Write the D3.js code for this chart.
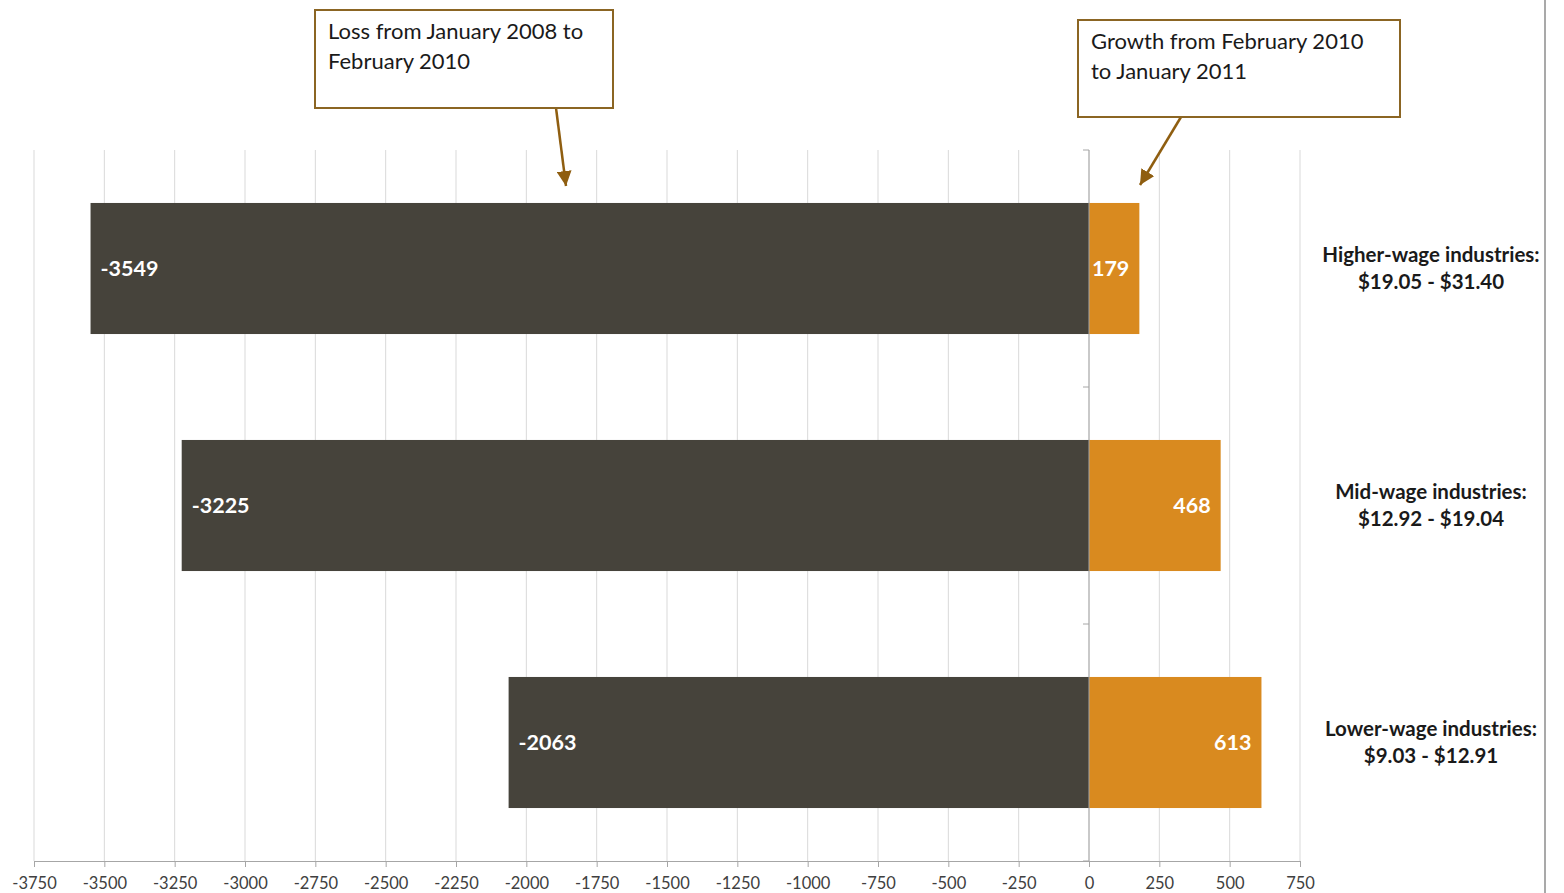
<!DOCTYPE html>
<html><head><meta charset="utf-8">
<script src="https://cdn.jsdelivr.net/npm/d3@7"></script>
<style>
html,body{margin:0;padding:0;background:#fff;}
svg{display:block;}
text{font-family:Lato,"Open Sans",sans-serif;}
</style></head>
<body>
<svg id="chart" width="1564" height="893"></svg>
<script>
const categories = ["Higher-wage industries:", "Mid-wage industries:", "Lower-wage industries:"];
const ranges = ["$19.05 - $31.40", "$12.92 - $19.04", "$9.03 - $12.91"];
const lossValues = [-3549, -3225, -2063];
const growthValues = [179, 468, 613];
const xTicks = [-3750,-3500,-3250,-3000,-2750,-2500,-2250,-2000,-1750,-1500,-1250,-1000,-750,-500,-250,0,250,500,750];
const annotations = ["Loss from January 2008 to|February 2010", "Growth from February 2010|to January 2011"];

const svg = d3.select("#chart");
const x = d3.scaleLinear().domain([-3750, 750]).range([34, 1300]);
const y = d3.scaleBand().domain(categories).range([150, 861]).paddingInner(0.447).paddingOuter(0.2235);
const yb = d3.scaleBand().domain(categories).range([150, 861]);

// gridlines
svg.append("g").selectAll("line").data(xTicks).join("line")
  .attr("x1", d => x(d)).attr("x2", d => x(d)).attr("y1", 150).attr("y2", 861)
  .attr("stroke", "#d9d9d9").attr("stroke-width", 1);

// x axis
const xAxis = svg.append("g").attr("transform", "translate(0,861)")
  .call(d3.axisBottom(x).tickValues(xTicks).tickSize(6).tickPadding(10).tickFormat(d3.format("d")));
xAxis.select(".domain").attr("stroke", "#a6a6a6");
xAxis.selectAll(".tick line").attr("stroke", "#a6a6a6");
xAxis.selectAll("text").attr("font-size", 16.5).attr("fill", "#404040")
  .attr("font-family", "'Liberation Sans Narrow','DejaVu Sans Condensed',Lato,sans-serif")
  .text(d => d3.format("d")(d).replace("−","-"));

// bars
const data = categories.map((c,i) => ({c, loss: lossValues[i], gain: growthValues[i]}));
svg.append("g").selectAll("rect").data(data).join("rect")
  .attr("x", d => x(d.loss)).attr("width", d => x(0) - x(d.loss))
  .attr("y", d => y(d.c)).attr("height", y.bandwidth()).attr("fill", "#46433b");
svg.append("g").selectAll("rect").data(data).join("rect")
  .attr("x", x(0)).attr("width", d => x(d.gain) - x(0))
  .attr("y", d => y(d.c)).attr("height", y.bandwidth()).attr("fill", "#d98a1f");

// zero axis with category ticks
const yAxis = svg.append("g").attr("transform", `translate(${x(0)},0)`);
yAxis.append("line").attr("x1",0).attr("x2",0).attr("y1",150).attr("y2",861).attr("stroke","#a6a6a6");
const bounds = [150].concat(categories.map(c => yb(c) + yb.bandwidth()));
yAxis.selectAll("line.t").data(bounds).join("line").attr("class","t")
  .attr("x1",-6).attr("x2",0).attr("y1",d=>d).attr("y2",d=>d).attr("stroke","#a6a6a6");

// value labels
svg.append("g").selectAll("text").data(data).join("text")
  .attr("x", d => x(d.loss) + 10).attr("y", d => y(d.c) + y.bandwidth()/2)
  .attr("dy","0.35em").attr("fill","#fff").attr("font-weight","bold").attr("font-size",21.5)
  .text(d => d.loss);
svg.append("g").selectAll("text").data(data).join("text")
  .attr("x", d => x(d.gain) - 10).attr("y", d => y(d.c) + y.bandwidth()/2)
  .attr("dy","0.35em").attr("text-anchor","end").attr("fill","#fff").attr("font-weight","bold").attr("font-size",21.5)
  .text(d => d.gain);

// category labels
const cl = svg.append("g").selectAll("text").data(data).join("text")
  .attr("x", 1431).attr("y", d => yb(d.c) + yb.bandwidth()/2)
  .attr("text-anchor","middle").attr("font-weight","bold").attr("font-size",20.5).attr("fill","#1a1a1a");
cl.append("tspan").attr("x",1431).attr("dy","-0.3em").text(d => d.c);
cl.append("tspan").attr("x",1431).attr("dy","1.3em").text((d,i) => ranges[i]);

// right border line
svg.append("line").attr("x1",1545).attr("x2",1545).attr("y1",0).attr("y2",893).attr("stroke","#8c8c8c").attr("stroke-width",1.5);

// annotations
const brown = "#8b6523";
svg.append("defs").append("marker").attr("id","arr").attr("viewBox","0 0 10 10")
  .attr("refX",10).attr("refY",5).attr("markerWidth",6).attr("markerHeight",6)
  .attr("markerUnits","strokeWidth").attr("orient","auto")
  .append("path").attr("d","M0,0 L10,5 L0,10 z").attr("fill","#8f5e10");
const boxes = [
  {x:315, y:10, w:298, h:98, text: annotations[0], ax1:556, ay1:108, ax2:566, ay2:186},
  {x:1078, y:20, w:322, h:97, text: annotations[1], ax1:1181, ay1:117, ax2:1140, ay2:185}
];
boxes.forEach(b => {
  svg.append("line").attr("x1",b.ax1).attr("y1",b.ay1).attr("x2",b.ax2).attr("y2",b.ay2)
    .attr("stroke","#8f5e10").attr("stroke-width",2.5).attr("marker-end","url(#arr)");
  svg.append("rect").attr("x",b.x).attr("y",b.y).attr("width",b.w).attr("height",b.h)
    .attr("fill","#fff").attr("stroke",brown).attr("stroke-width",2);
  const t = svg.append("text").attr("font-size",22).attr("fill","#1a1a1a");
  b.text.split("|").forEach((line,i) => {
    t.append("tspan").attr("x", b.x + 13).attr("y", b.y + 29 + i*30).text(line);
  });
});
</script>
</body></html>
